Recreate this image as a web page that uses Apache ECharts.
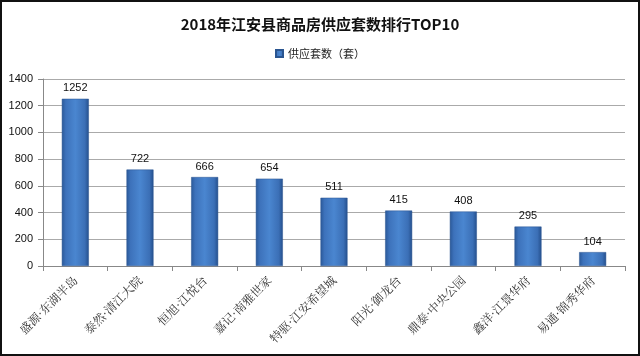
<!DOCTYPE html>
<html><head><meta charset="utf-8">
<script src="https://cdn.jsdelivr.net/npm/echarts@6/dist/echarts.min.js"></script>
<style>html,body{margin:0;padding:0;background:#fff}#c{width:640px;height:356px;box-sizing:border-box;border:2px solid #111;}</style>
</head><body><div id="c"></div>
<script>
var categories = ['盛源·东湖半岛','泰然·清江大院','恒旭·江悦台','嘉记·南雅世家','特驱·江安希望城','阳光·御龙台','鼎泰·中央公园','鑫洋·江景华府','易通·锦秀华府'];
var values = [1252, 722, 666, 654, 511, 415, 408, 295, 104];
var yTicks = {min: 0, max: 1400, interval: 200};
var chart = echarts.init(document.getElementById('c'));
chart.setOption({
  animation: false,
  title: {text: '2018年江安县商品房供应套数排行TOP10', left: 'center', top: 10,
    textStyle: {fontFamily: 'Noto Sans CJK SC', fontSize: 15, fontWeight: 'bold', color: '#111'}},
  legend: {top: 41, left: 'center', itemWidth: 7, itemHeight: 7, icon: 'rect', itemGap: 4,
    textStyle: {fontFamily: 'Noto Sans CJK SC', fontSize: 11, color: '#222'},
    data: ['供应套数（套）']},
  grid: {left: 41, right: 13, top: 77, bottom: 88},
  xAxis: {type: 'category', data: categories,
    axisLine: {lineStyle: {color: '#888'}},
    axisTick: {show: true, lineStyle: {color: '#888'}, length: 5},
    axisLabel: {rotate: 45, interval: 0, fontFamily: 'Noto Serif CJK SC, Noto Sans CJK SC', fontSize: 12, color: '#333', margin: 12}},
  yAxis: {type: 'value', min: yTicks.min, max: yTicks.max, interval: yTicks.interval,
    axisLine: {show: true, lineStyle: {color: '#888'}},
    axisTick: {show: true, lineStyle: {color: '#888'}, length: 5},
    splitLine: {lineStyle: {color: '#aaa'}},
    axisLabel: {fontFamily: 'Liberation Sans', fontSize: 11, color: '#111', margin: 10,
      formatter: function (v) { return String(v); }}},
  series: [{name: '供应套数（套）', type: 'bar', data: values, barWidth: 27,
    itemStyle: {color: new echarts.graphic.LinearGradient(0, 0, 1, 0, [
      {offset: 0, color: '#2a5898'}, {offset: 0.15, color: '#3d72bb'}, {offset: 0.5, color: '#4a86d0'},
      {offset: 0.85, color: '#3b6fb6'}, {offset: 1, color: '#244f8c'}]),
      borderColor: '#2a5590', borderWidth: 0.5},
    label: {show: true, position: 'top', distance: 5, fontFamily: 'Liberation Sans', fontSize: 11, color: '#111'}}]
});
</script></body></html>
